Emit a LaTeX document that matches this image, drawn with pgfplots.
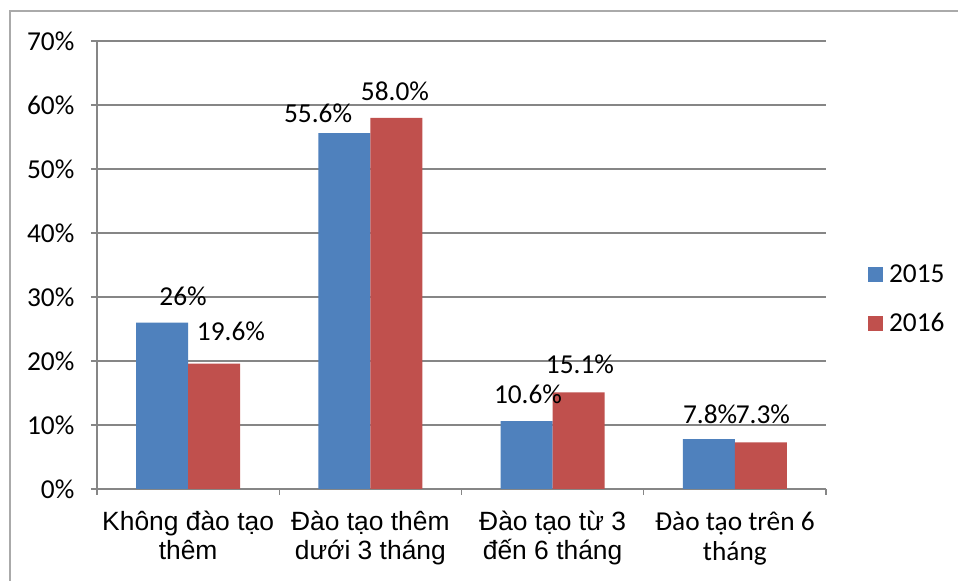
\documentclass[border=0pt]{standalone}
\usepackage{pgfplots}
\pgfplotsset{compat=1.18}
\usepackage{fontspec}
\setmainfont{Carlito}
\newfontfamily\arial{Liberation Sans}
\definecolor{blueS}{HTML}{4F81BD}
\definecolor{redS}{HTML}{C0504D}
\definecolor{gridc}{RGB}{134,134,134}
\newcommand{\lbl}{\fontsize{20.5}{24}\selectfont}
\newcommand{\catf}{\arial\fontsize{19.8}{24}\selectfont}
\begin{document}
\begin{tikzpicture}
\useasboundingbox (0,0) rectangle (718.5pt,435.75pt);
\fill[white] (0,0) rectangle (718.5pt,435.75pt);
\draw[gridc!70, line width=1.5pt] (7.5pt,0) -- (7.5pt,427.5pt) -- (718.5pt,427.5pt);
\begin{axis}[
  at={(72.75pt,69pt)}, anchor=south west,
  scale only axis, width=546.75pt, height=336pt,
  xmin=-0.5, xmax=3.5, ymin=0, ymax=70,
  ybar=0pt, bar width=39pt,
  axis x line*=bottom, axis y line*=left,
  axis line style={gridc, line width=0.9pt},
  xtick={-0.5,0.5,1.5,2.5,3.5}, xticklabels={},
  ytick={0,10,...,70},
  yticklabel={\pgfmathprintnumber{\tick}\%},
  /pgf/number format/assume math mode=true,
  ticklabel style={font=\lbl},
  yticklabel style={xshift=-9pt},
  tick align=outside, major tick length=4.5pt,
  tick style={gridc, line width=0.9pt},
  ymajorgrids, grid style={gridc, line width=0.9pt},
  legend style={at={(axis description cs:1.052,0.424)}, anchor=west, draw=none, fill=none,
    font=\lbl, row sep=20pt, legend cell align=left,
    nodes={inner sep=1pt}},
  legend image code/.code={\fill[#1] (0pt,-5.6pt) rectangle (11.25pt,5.6pt);},
  clip=false,
]
\addplot[fill=blueS, draw=none] coordinates {(0,26) (1,55.6) (2,10.6) (3,7.8)};
\addplot[fill=redS, draw=none] coordinates {(0,19.6) (1,58.0) (2,15.1) (3,7.3)};
\legend{\,2015,\,2016}
\node[font=\lbl] at (axis cs:-0.028,30.16) {26\%};
\node[font=\lbl] at (axis cs:0.235,24.69) {19.6\%};
\node[font=\lbl] at (axis cs:0.713,58.75) {55.6\%};
\node[font=\lbl] at (axis cs:1.135,62.2) {58.0\%};
\node[font=\lbl] at (axis cs:1.865,14.84) {10.6\%};
\node[font=\lbl] at (axis cs:2.150,19.53) {15.1\%};
\node[font=\lbl] at (axis cs:2.864,11.72) {7.8\%};
\node[font=\lbl] at (axis cs:3.154,11.72) {7.3\%};
\node[font=\catf, anchor=base] at (axis cs:0,-6.56) {Không đào tạo};
\node[font=\catf, anchor=base] at (axis cs:0,-10.94) {thêm};
\node[font=\catf, anchor=base] at (axis cs:1,-6.56) {Đào tạo thêm};
\node[font=\catf, anchor=base] at (axis cs:1,-10.94) {dưới 3 tháng};
\node[font=\catf, anchor=base] at (axis cs:2,-6.56) {Đào tạo từ 3};
\node[font=\catf, anchor=base] at (axis cs:2,-10.94) {đến 6 tháng};
\node[font=\lbl, anchor=base] at (axis cs:3,-6.56) {Đào tạo trên 6};
\node[font=\lbl, anchor=base] at (axis cs:3,-11.25) {tháng};
\end{axis}
\end{tikzpicture}
\end{document}
